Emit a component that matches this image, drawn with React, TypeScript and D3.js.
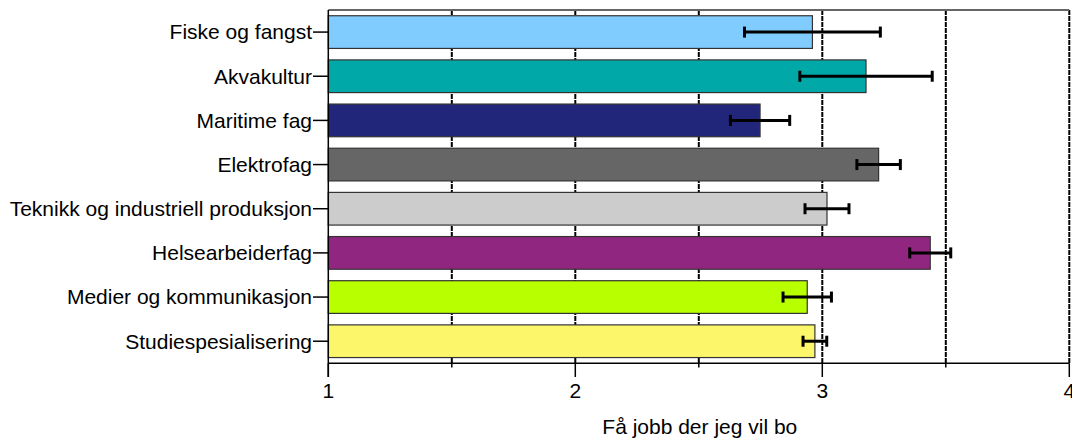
import React from "react";
import * as d3 from "d3";

const categories = [
  "Fiske og fangst",
  "Akvakultur",
  "Maritime fag",
  "Elektrofag",
  "Teknikk og industriell produksjon",
  "Helsearbeiderfag",
  "Medier og kommunikasjon",
  "Studiespesialisering",
];
const means = [2.96, 3.177, 2.748, 3.228, 3.019, 3.437, 2.939, 2.97];
const errors = [0.275, 0.268, 0.12, 0.088, 0.089, 0.083, 0.098, 0.048];
const colors = ["#80CCFF", "#00A8A8", "#22267A", "#666666", "#CCCCCC", "#902680", "#B8FF00", "#FCF66A"];
const xTicks = [1, 2, 3, 4];
const gridValues = [1.5, 2, 2.5, 3, 3.5, 4];
const minorTicks = [1.5, 2.5, 3.5];
const axisTitle = "Få jobb der jeg vil bo";

const W = 1072;
const H = 439;
const left = 328.3;
const right = 1069.3;
const top = 10;
const bottom = 363.3;
const font = "'Liberation Sans', Arial, sans-serif";

export default function App() {
  const x = d3.scaleLinear().domain([1, 4]).range([left, right]);
  const y = d3.scaleBand<string>().domain(categories).range([top, bottom]).paddingInner(0.26).paddingOuter(0.13);
  const bw = y.bandwidth();
  return (
    <svg width={W} height={H} style={{ position: "absolute", left: 0, top: 0, background: "#fff" }}>
      {gridValues.map((g) => (
        <line key={"g" + g} x1={x(g)} x2={x(g)} y1={top} y2={bottom} stroke="#000" strokeWidth={2} strokeDasharray="5,1" />
      ))}
      <line x1={left} x2={right} y1={top} y2={top} stroke="#666" strokeWidth={2} />
      {categories.map((c, i) => (
        <rect key={c} x={x(1)} y={y(c)!} width={x(means[i]) - x(1)} height={bw} fill={colors[i]} stroke="#333" strokeWidth={1.2} />
      ))}
      {categories.map((c, i) => {
        const cy = y(c)! + bw / 2;
        const x0 = x(means[i] - errors[i]);
        const x1 = x(means[i] + errors[i]);
        return (
          <g key={"e" + c} stroke="#000">
            <line x1={x0} x2={x1} y1={cy} y2={cy} strokeWidth={3} />
            <line x1={x0} x2={x0} y1={cy - 5.5} y2={cy + 5.5} strokeWidth={3} />
            <line x1={x1} x2={x1} y1={cy - 5.5} y2={cy + 5.5} strokeWidth={3} />
          </g>
        );
      })}
      <line x1={left} x2={left} y1={top} y2={377} stroke="#000" strokeWidth={1.5} />
      {categories.map((c) => {
        const cy = y(c)! + bw / 2;
        return (
          <g key={"t" + c}>
            <line x1={313} x2={left} y1={cy} y2={cy} stroke="#000" strokeWidth={1.5} />
            <text x={312} y={cy} dy="0.35em" textAnchor="end" fontFamily={font} fontSize={21} fill="#000">
              {c}
            </text>
          </g>
        );
      })}
      <line x1={left} x2={right} y1={bottom} y2={bottom} stroke="#000" strokeWidth={1.5} />
      {xTicks.map((t) => (
        <g key={"x" + t}>
          <line x1={x(t)} x2={x(t)} y1={bottom} y2={377} stroke="#000" strokeWidth={1.5} />
          <text x={x(t)} y={398} textAnchor="middle" fontFamily={font} fontSize={21} fill="#000">
            {t}
          </text>
        </g>
      ))}
      {minorTicks.map((t) => (
        <line key={"m" + t} x1={x(t)} x2={x(t)} y1={bottom} y2={367.5} stroke="#000" strokeWidth={1.5} />
      ))}
      <text x={(left + right) / 2 + 1} y={434} textAnchor="middle" fontFamily={font} fontSize={21} fill="#000">
        {axisTitle}
      </text>
    </svg>
  );
}
